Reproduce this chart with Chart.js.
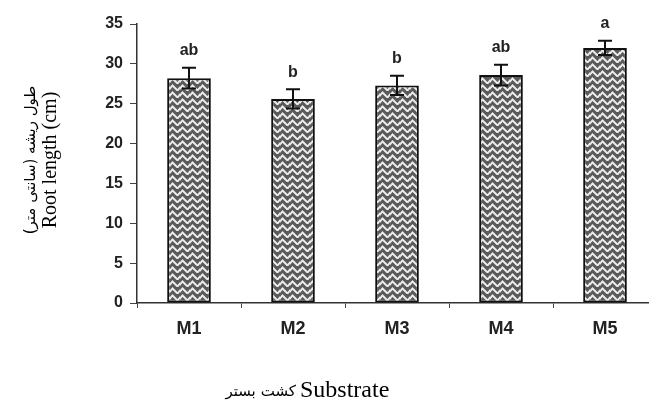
<!DOCTYPE html>
<html>
<head>
<meta charset="utf-8">
<script src="https://cdn.jsdelivr.net/npm/chart.js@4"></script>
<style>
  body { margin: 0; background: #fff; overflow: hidden; }
  #wrap { width: 657px; height: 406px; }
</style>
</head>
<body>
<div id="wrap"><canvas id="myChart" width="657" height="406"></canvas></div>
<script>
// values
const categories = ["M1", "M2", "M3", "M4", "M5"];
const rootLength = [28.2, 25.6, 27.3, 28.6, 32.0];
const errors = [1.3, 1.2, 1.2, 1.3, 0.9];
const letters = ["ab", "b", "b", "ab", "a"];
const yTitleEn = "Root length (cm)";
const yTitleFa = "طول ریشه (سانتی متر)";
const xTitleEn = "Substrate";
const xTitleFa = ["بستر", "کشت"];

// herringbone-ish gray fill
function makePattern() {
    const p = document.createElement("canvas");
    p.width = 10; p.height = 7;
    const c = p.getContext("2d");
    c.fillStyle = "#5a5a5a";
    c.fillRect(0, 0, 10, 7);
    c.strokeStyle = "#ececec";
    c.lineWidth = 1.9;
    c.beginPath();
    c.moveTo(-2, 7); c.lineTo(2.5, 1.5); c.lineTo(7.5, 6.5); c.lineTo(12, 1);
    c.moveTo(-2, 0); c.lineTo(2.5, -5.5); c.moveTo(7.5, -0.5); c.lineTo(12, -6);
    c.moveTo(-2, 14); c.lineTo(2.5, 8.5); c.lineTo(7.5, 13.5);
    c.stroke();
    return c.createPattern(p, "repeat");
}

const extras = {
    id: "extras",
    afterDatasetsDraw(chart) {
        const ctx = chart.ctx;
        const x = chart.scales.x, y = chart.scales.y;
        ctx.save();
        // error bars + letters
        ctx.strokeStyle = "#111";
        ctx.lineWidth = 2;
        for (let i = 0; i < categories.length; i++) {
            const cx = x.getPixelForValue(i);
            const top = y.getPixelForValue(rootLength[i] + errors[i]);
            const bot = y.getPixelForValue(rootLength[i] - errors[i]);
            ctx.beginPath();
            ctx.moveTo(cx, top); ctx.lineTo(cx, bot);
            ctx.moveTo(cx - 7, top); ctx.lineTo(cx + 7, top);
            ctx.moveTo(cx - 7, bot); ctx.lineTo(cx + 7, bot);
            ctx.stroke();
            ctx.fillStyle = "#222";
            ctx.font = "bold 16px 'Liberation Sans', Arial";
            ctx.textAlign = "center";
            ctx.textBaseline = "middle";
            ctx.fillText(letters[i], cx, top - 17);
        }
        ctx.restore();
    },
    afterDraw(chart) {
        const ctx = chart.ctx;
        ctx.save();
        ctx.fillStyle = "#000";
        // y title, two lines
        ctx.translate(51, 160);
        ctx.rotate(-Math.PI / 2);
        ctx.textAlign = "center";
        ctx.textBaseline = "middle";
        ctx.font = "20px 'Liberation Serif', 'Times New Roman'";
        ctx.fillText(yTitleEn, 0, 0);
        ctx.direction = "rtl";
        ctx.font = "15px 'DejaVu Sans'";
        ctx.fillText(yTitleFa, 0, -20);
        ctx.restore();

        // x title: بستر | کشت | Substrate from left to right
        ctx.save();
        ctx.fillStyle = "#000";
        ctx.textBaseline = "alphabetic";
        ctx.textAlign = "left";
        ctx.font = "24px 'Liberation Serif', 'Times New Roman'";
        ctx.fillText(xTitleEn, 300, 397);
        ctx.font = "15px 'DejaVu Sans'";
        const w1 = ctx.measureText(xTitleFa[1]).width;
        const w0 = ctx.measureText(xTitleFa[0]).width;
        ctx.fillText(xTitleFa[1], 296 - w1, 396);
        ctx.fillText(xTitleFa[0], 296 - w1 - 5 - w0, 396);
        ctx.restore();
    }
};

const myChart = document.getElementById("myChart").getContext("2d");
const chart = new Chart(myChart, {
    type: "bar",
    data: {
        labels: categories,
        datasets: [{
            data: rootLength,
            backgroundColor: makePattern(),
            borderColor: "#111",
            borderWidth: 2,
            borderSkipped: false,
            categoryPercentage: 1,
            barPercentage: 0.42
        }]
    },
    options: {
        responsive: false,
        animation: false,
        layout: { padding: { top: 24, left: 0, right: 0, bottom: 0 } },
        plugins: { legend: { display: false }, tooltip: { enabled: false } },
        scales: {
            x: {
                grid: { display: true, drawOnChartArea: false, drawTicks: true, tickLength: 5, color: "#444", offset: true },
                border: { display: true, color: "#333", width: 1.5 },
                ticks: { color: "#222", font: { family: "'Liberation Sans', Arial", size: 18, weight: "bold" }, padding: 10 },
                afterFit(s) { s.height = 103; }
            },
            y: {
                min: 0, max: 35,
                ticks: { stepSize: 5, color: "#222", font: { family: "'Liberation Sans', Arial", size: 16, weight: "bold" }, padding: 7 },
                grid: { display: true, drawOnChartArea: false, drawTicks: true, tickLength: 7, color: "#444" },
                border: { display: true, color: "#333", width: 1.5 },
                afterFit(s) { s.width = 137; }
            }
        }
    },
    plugins: [extras]
});
</script>
</body>
</html>
